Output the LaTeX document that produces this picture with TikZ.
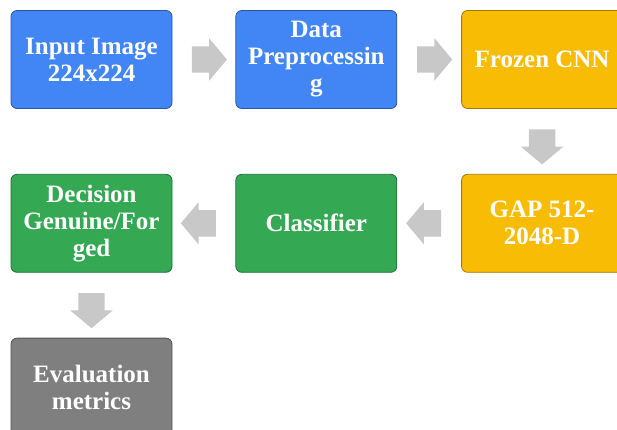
\documentclass[tikz,border=0pt]{standalone}
\usepackage{fontspec}
\setmainfont{Liberation Serif}
\usetikzlibrary{shapes.arrows, positioning, calc}
\definecolor{stageblue}{HTML}{4285F4}
\definecolor{stageyellow}{HTML}{F9BC05}
\definecolor{stagegreen}{HTML}{34A853}
\definecolor{stagegray}{HTML}{7F7F7F}
\definecolor{flowgray}{HTML}{C8C8C8}

\begin{document}
\begin{tikzpicture}
        [
            x=1pt, y=1pt,
            stage/.style={rectangle, rounded corners=6pt, draw=#1!65!black, fill=#1, line width=0.8pt,
                minimum width=161pt, minimum height=98pt, inner sep=0pt, align=center,
                text=white, font=\bfseries\fontsize{25}{27}\selectfont},
            flow/.style={single arrow, fill=flowgray, draw=none, minimum height=35pt,
                inner xsep=0pt, inner ysep=13pt, single arrow head extend=8pt,
                single arrow tip angle=100, single arrow head indent=0pt},
            node distance=64pt
        ]
    \useasboundingbox (0,0) rectangle (617,-429);

    \node[stage=stageblue] (input) at (91.5,-59.5) {Input Image\\224x224};
    \node[stage=stageblue, right=63pt of input] (prep) {Data\\Preprocessin\\g};
    \node[stage=stageyellow, right=of prep] (cnn) {Frozen CNN};
    \node[stage=stageyellow, below=65pt of cnn] (gap) {GAP 512-\\2048-D};
    \node[stage=stagegreen, left=of gap] (clf) {Classifier};
    \node[stage=stagegreen, left=63pt of clf] (dec) {Decision\\Genuine/For\\ged};
    \node[stage=stagegray, below=65pt of dec] (eval) {Evaluation\\metrics};

    \node[flow] (a1) at ($(input.east)!0.5!(prep.west)$) {};
    \node[flow] (a2) at ($(prep.east)!0.5!(cnn.west)$) {};
    \node[flow, rotate=270] (a3) at ($(cnn.south)!0.5!(gap.north)$) {};
    \node[flow, rotate=180] (a4) at ($(gap.west)!0.5!(clf.east)$) {};
    \node[flow, rotate=180] (a5) at ($(clf.west)!0.5!(dec.east)$) {};
    \node[flow, rotate=270] (a6) at ($(dec.south)!0.5!(eval.north)$) {};
\end{tikzpicture}
\end{document}
